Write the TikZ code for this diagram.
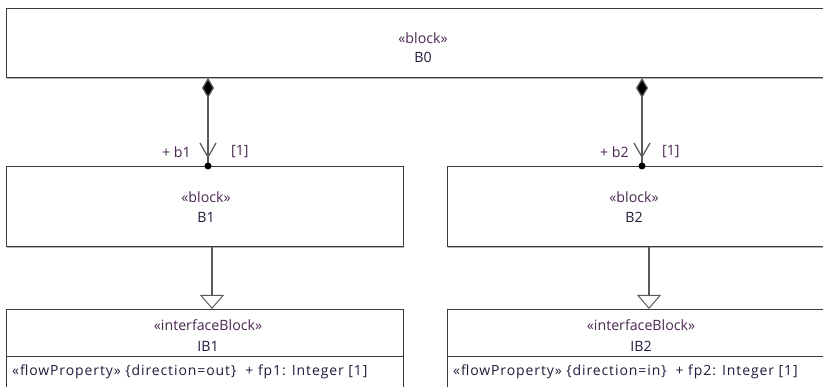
\documentclass[tikz,border=0pt]{standalone}
\usepackage{fontspec}
\setmainfont{Open Sans}
\newfontfamily\flowfont[LetterSpace=6.5]{Open Sans}
\usetikzlibrary{arrows.meta,shadows,calc}
\definecolor{stereo}{HTML}{4A2850}
\definecolor{nm}{HTML}{1E1E3C}
\definecolor{edge}{HTML}{3A3A3A}
\definecolor{conn}{HTML}{5A5A5A}
\begin{document}
\begin{tikzpicture}[x=1pt,y=-1pt,
  blockbox/.style={draw=edge, line width=1pt, fill=white, inner sep=0pt,
    anchor=north west, drop shadow={shadow xshift=0pt, shadow yshift=-1.5pt, fill=black!30, opacity=1}},
  txt/.style={inner sep=0pt, font=\fontsize{14.2}{16}\selectfont},
  st/.style={txt, text=stereo},
  nmt/.style={txt, text=nm},
  flowtxt/.style={inner sep=0pt, text=nm, font=\flowfont\fontsize{14}{16}\selectfont},
  conn/.style={draw=conn, line width=1.2pt},
  comp/.style={conn, {Diamond[length=20pt,width=12pt,fill=black]}-},
  gen/.style={conn, -{Triangle[length=14pt,width=24pt,fill=white,line width=1pt]}}
]
\useasboundingbox (0,0) rectangle (823,387);
\clip (0,0) rectangle (823,387);
\fill[white] (0,0) rectangle (823,387);
% boxes
\node[blockbox, minimum width=834pt, minimum height=69pt] (B0) at (6,8) {};
\node[blockbox, minimum width=397pt, minimum height=80pt] (B1) at (6,166) {};
\node[blockbox, minimum width=397pt, minimum height=80pt] (B2) at (447,166) {};
\node[blockbox, minimum width=397pt, minimum height=110pt] (IB1) at (6,309) {};
\node[blockbox, minimum width=397pt, minimum height=110pt] (IB2) at (447,309) {};
\draw[draw=edge, line width=1pt] (IB1.west |- 0,357) -- (IB1.east |- 0,357);
\draw[draw=edge, line width=1pt] (IB2.west |- 0,357) -- (IB2.east |- 0,357);
% texts
\node[st] (t0s) at (423,38) {«block»};
\node[nmt] (t0n) at (423,57) {B0};
\node[st] (t1s) at (206,197) {«block»};
\node[nmt] (t1n) at (206,217) {B1};
\node[st] (t2s) at (634,197) {«block»};
\node[nmt] (t2n) at (634,217) {B2};
\node[st] (ti1s) at (208,325) {«interfaceBlock»};
\node[nmt] (ti1n) at (208,346) {IB1};
\node[st] (ti2s) at (641,325) {«interfaceBlock»};
\node[nmt] (ti2n) at (641,346) {IB2};
\node[flowtxt, anchor=west] (fp1) at (12,372) {«flowProperty» \{direction=out\}\ \ + fp1: Integer [1]};
\node[flowtxt, anchor=west] (fp2) at (453,372) {«flowProperty» \{direction=in\}\ \ + fp2: Integer [1]};
% compositions
\draw[comp] (B0.south -| 208,0) -- (B1.north -| 208,0);
\coordinate (v1) at ($(B1.north -| 208,0)+(0,-9)$);
\draw[conn] ($(v1)+(-8,-14)$) -- (v1) -- ($(v1)+(8,-14)$);
\fill[black] (B1.north -| 208,0) circle (3.5pt);
\node[st, anchor=east] (l1a) at (191,152) {+ b1};
\node[st, anchor=west] (l1b) at (231,152) {[1]};
\draw[comp] (B0.south -| 642,0) -- (B2.north -| 642,0);
\coordinate (v2) at ($(B2.north -| 642,0)+(0,-9)$);
\draw[conn] ($(v2)+(-8,-14)$) -- (v2) -- ($(v2)+(8,-14)$);
\fill[black] (B2.north -| 642,0) circle (3.5pt);
\node[st, anchor=east] (l2a) at (629,152) {+ b2};
\node[st, anchor=west] (l2b) at (662,152) {[1]};
% generalizations
\draw[gen] (B1.south -| 212,0) -- (IB1.north -| 212,0);
\draw[gen] (B2.south -| 649,0) -- (IB2.north -| 649,0);
\end{tikzpicture}
\end{document}
